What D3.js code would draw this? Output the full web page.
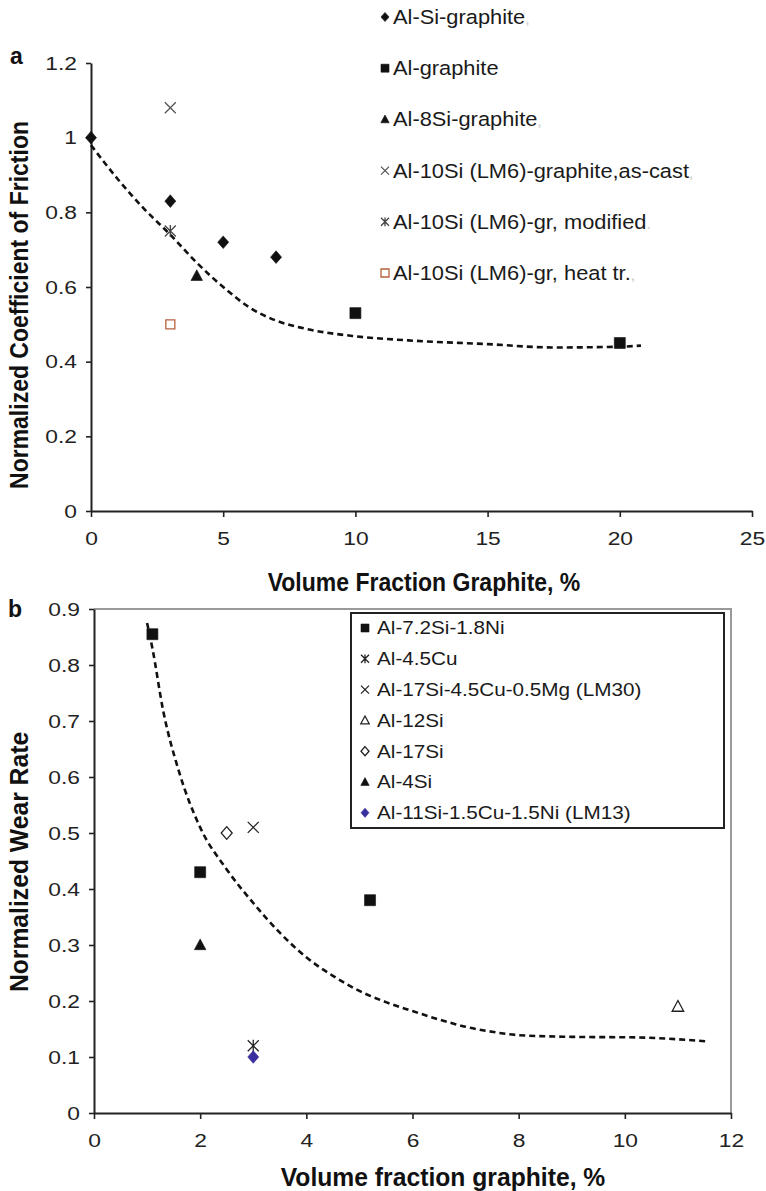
<!DOCTYPE html>
<html>
<head>
<meta charset="utf-8">
<script src="https://cdn.jsdelivr.net/npm/d3@7"></script>
<style>
  html, body { margin: 0; padding: 0; background: #fff; }
  svg { display: block; font-family: "Liberation Sans", Arial, Helvetica, sans-serif; }
</style>
</head>
<body>
<svg id="fig" width="766" height="1191"></svg>
<script>
// ---------- Panel a: friction coefficient ----------
const aSeriesNames = [
  "Al-Si-graphite", "Al-graphite", "Al-8Si-graphite",
  "Al-10Si (LM6)-graphite,as-cast", "Al-10Si (LM6)-gr, modified", "Al-10Si (LM6)-gr, heat tr."
];
const aSeriesTail = [",", "", ",", ",", ".", ","];
const aSeriesSymbols = ["diamond", "square", "triangle", "cross", "asterisk", "openSquare"];
const aSeriesColors = ["#111", "#111", "#111", "#555", "#444", "#b5603c"];
const aSiGraphiteX = [0, 3, 5, 7];
const aSiGraphiteY = [1.0, 0.83, 0.72, 0.68];
const aGraphiteX = [10, 20];
const aGraphiteY = [0.53, 0.45];
const a8SiX = [4];
const a8SiY = [0.63];
const aAsCastX = [3];
const aAsCastY = [1.08];
const aModifiedX = [3];
const aModifiedY = [0.75];
const aHeatX = [3];
const aHeatY = [0.50];
const aTrendX = [0, 1, 2, 3, 4, 5, 6, 7, 8, 10, 12, 15, 17.5, 20, 20.8];
const aTrendY = [0.98, 0.89, 0.81, 0.74, 0.665, 0.60, 0.545, 0.51, 0.49, 0.468, 0.457, 0.447, 0.438, 0.44, 0.443];
const aXTicks = [0, 5, 10, 15, 20, 25];
const aYTicks = [0, 0.2, 0.4, 0.6, 0.8, 1.0, 1.2];

// ---------- Panel b: wear rate ----------
const bSeriesNames = [
  "Al-7.2Si-1.8Ni", "Al-4.5Cu", "Al-17Si-4.5Cu-0.5Mg (LM30)", "Al-12Si",
  "Al-17Si", "Al-4Si", "Al-11Si-1.5Cu-1.5Ni (LM13)"
];
const bSeriesSymbols = ["square", "asterisk", "cross", "openTriangle", "openDiamond", "triangle", "diamond"];
const bSeriesColors = ["#111", "#222", "#222", "#222", "#222", "#111", "#3a2f9e"];
const bNiX = [1.1, 2, 5.2];
const bNiY = [0.855, 0.43, 0.38];
const bCuX = [3];
const bCuY = [0.12];
const bLM30X = [3];
const bLM30Y = [0.51];
const b12SiX = [11];
const b12SiY = [0.19];
const b17SiX = [2.5];
const b17SiY = [0.50];
const b4SiX = [2];
const b4SiY = [0.30];
const bLM13X = [3];
const bLM13Y = [0.10];
const bTrendX = [1.0, 1.1, 1.3, 1.6, 2.0, 2.5, 3.0, 3.5, 4.0, 4.5, 5.0, 5.5, 6.0, 6.5, 7.0, 7.5, 8, 9, 10.2, 11.55];
const bTrendY = [0.875, 0.83, 0.72, 0.61, 0.51, 0.435, 0.375, 0.322, 0.278, 0.245, 0.218, 0.198, 0.182, 0.167, 0.154, 0.145, 0.139, 0.136, 0.135, 0.128];
const bXTicks = [0, 2, 4, 6, 8, 10, 12];
const bYTicks = [0, 0.1, 0.2, 0.3, 0.4, 0.5, 0.6, 0.7, 0.8, 0.9];

const zip = (xs, ys) => xs.map((x, i) => [x, ys[i]]);
const aSeries = [
  zip(aSiGraphiteX, aSiGraphiteY), zip(aGraphiteX, aGraphiteY), zip(a8SiX, a8SiY),
  zip(aAsCastX, aAsCastY), zip(aModifiedX, aModifiedY), zip(aHeatX, aHeatY)
];
const bSeries = [
  zip(bNiX, bNiY), zip(bCuX, bCuY), zip(bLM30X, bLM30Y), zip(b12SiX, b12SiY),
  zip(b17SiX, b17SiY), zip(b4SiX, b4SiY), zip(bLM13X, bLM13Y)
];

const svg = d3.select("#fig");
const tickFmt = d => String(+d.toFixed(1));
const FONT = "'Liberation Sans', Arial, Helvetica, sans-serif";

// widen or narrow glyphs horizontally while keeping the anchor point
function stretch(sel, sx) {
  sel.each(function () {
    const t = d3.select(this);
    const x = +t.attr("x") || 0, y = +t.attr("y") || 0;
    t.attr("x", 0).attr("y", 0).attr("transform", `translate(${x},${y}) scale(${sx},1)`);
  });
}

// marker drawing: shape name -> path for a marker centred at 0,0
function markerPath(kind, s) {
  const h = s / 2;
  switch (kind) {
    case "diamond": case "openDiamond":
      return `M0,${-h * 1.15}L${h},0L0,${h * 1.15}L${-h},0Z`;
    case "square": case "openSquare":
      return `M${-h},${-h}H${h}V${h}H${-h}Z`;
    case "triangle": case "openTriangle":
      return `M0,${-h * 1.1}L${h * 1.05},${h * 0.85}H${-h * 1.05}Z`;
    case "cross":
      return `M${-h},${-h}L${h},${h}M${h},${-h}L${-h},${h}`;
    case "asterisk":
      return `M${-h},${-h}L${h},${h}M${h},${-h}L${-h},${h}M0,${-h * 1.1}V${h * 1.1}`;
  }
}
function drawMarker(g, kind, color, size) {
  const filled = ["diamond", "square", "triangle"].includes(kind);
  const open = ["openDiamond", "openSquare", "openTriangle"].includes(kind);
  return g.append("path")
    .attr("d", markerPath(kind, size))
    .attr("fill", filled ? color : (open ? "#fff" : "none"))
    .attr("stroke", color)
    .attr("stroke-width", filled ? 0.6 : 1.3);
}

function styleAxis(g) {
  g.selectAll(".domain").attr("stroke", "#222").attr("stroke-width", 2);
  g.selectAll(".tick line").attr("stroke", "#222").attr("stroke-width", 1.6);
  const txt = g.selectAll(".tick text").attr("fill", "#222")
    .style("font-family", FONT).style("font-size", "19px");
  stretch(txt, 1.2);
}

function title(x, y, rot, size, sx, str) {
  return svg.append("text")
    .attr("transform", `translate(${x},${y}) rotate(${rot}) scale(${sx},1)`)
    .attr("dy", "0.36em").attr("text-anchor", "middle")
    .attr("font-weight", "bold").attr("font-size", size).attr("fill", "#111")
    .text(str);
}

// ================= Panel a =================
const xA = d3.scaleLinear().domain([0, 25]).range([91, 752]);
const yA = d3.scaleLinear().domain([0, 1.2]).range([511, 63]);

const gA = svg.append("g");
gA.append("g").attr("transform", `translate(0,${yA(0)})`)
  .call(d3.axisBottom(xA).tickValues(aXTicks).tickFormat(tickFmt).tickSize(6).tickSizeOuter(0).tickPadding(15))
  .call(styleAxis);
gA.append("g").attr("transform", `translate(${xA(0)},0)`)
  .call(d3.axisLeft(yA).tickValues(aYTicks).tickFormat(tickFmt).tickSize(5).tickSizeOuter(0).tickPadding(9))
  .call(styleAxis);

gA.append("path")
  .datum(zip(aTrendX, aTrendY))
  .attr("fill", "none").attr("stroke", "#111").attr("stroke-width", 2.6)
  .attr("stroke-dasharray", "6,4")
  .attr("d", d3.line().x(d => xA(d[0])).y(d => yA(d[1])).curve(d3.curveMonotoneX));

aSeries.forEach((pts, i) => {
  pts.forEach(p => {
    const m = gA.append("g").attr("transform", `translate(${xA(p[0])},${yA(p[1])})`);
    drawMarker(m, aSeriesSymbols[i], aSeriesColors[i], aSeriesSymbols[i] === "openSquare" ? 9 : 11);
  });
});

// legend a (no frame)
const legA = svg.append("g");
aSeriesNames.forEach((name, i) => {
  const cy = 17 + i * 51.2;
  const m = legA.append("g").attr("transform", `translate(385,${cy})`);
  drawMarker(m, aSeriesSymbols[i], aSeriesColors[i], 8);
  const t = legA.append("text").attr("x", 393).attr("y", cy)
    .attr("dy", "0.36em").attr("font-size", 19.5).attr("fill", "#1a1a1a");
  t.append("tspan").text(name);
  t.append("tspan").attr("fill", "#c8c8c8").attr("font-size", 14).text(aSeriesTail[i]);
  stretch(t, 1.12);
});

svg.append("text").attr("x", 10).attr("y", 56).attr("dy", "0.36em")
  .attr("font-weight", "bold").attr("font-size", 23).attr("fill", "#111").text("a");
title(424, 582, 0, 25, 0.92, "Volume Fraction Graphite, %");
title(19, 305, -90, 25, 0.92, "Normalized Coefficient of Friction");

// ================= Panel b =================
const xB = d3.scaleLinear().domain([0, 12]).range([94, 731]);
const yB = d3.scaleLinear().domain([0, 0.9]).range([1113, 609]);

const gB = svg.append("g");
// light plot-area frame on the top and right
gB.append("path")
  .attr("d", `M${xB(0)},${yB(0.9)}H${xB(12)}V${yB(0)}`)
  .attr("fill", "none").attr("stroke", "#9a9a9a").attr("stroke-width", 2);
gB.append("g").attr("transform", `translate(0,${yB(0)})`)
  .call(d3.axisBottom(xB).tickValues(bXTicks).tickFormat(tickFmt).tickSize(6).tickSizeOuter(0).tickPadding(15))
  .call(styleAxis);
gB.append("g").attr("transform", `translate(${xB(0)},0)`)
  .call(d3.axisLeft(yB).tickValues(bYTicks).tickFormat(tickFmt).tickSize(5).tickSizeOuter(0).tickPadding(9))
  .call(styleAxis);

gB.append("path")
  .datum(zip(bTrendX, bTrendY))
  .attr("fill", "none").attr("stroke", "#111").attr("stroke-width", 2.6)
  .attr("stroke-dasharray", "6,4")
  .attr("d", d3.line().x(d => xB(d[0])).y(d => yB(d[1])).curve(d3.curveMonotoneX));

bSeries.forEach((pts, i) => {
  pts.forEach(p => {
    const m = gB.append("g").attr("transform", `translate(${xB(p[0])},${yB(p[1])})`);
    drawMarker(m, bSeriesSymbols[i], bSeriesColors[i], 11);
  });
});

// legend b (framed)
const legB = svg.append("g");
legB.append("rect").attr("x", 351).attr("y", 613).attr("width", 373).attr("height", 215)
  .attr("fill", "#fff").attr("stroke", "#222").attr("stroke-width", 2);
bSeriesNames.forEach((name, i) => {
  const cy = 628 + i * 30.8;
  const m = legB.append("g").attr("transform", `translate(365,${cy})`);
  drawMarker(m, bSeriesSymbols[i], bSeriesColors[i], 8);
  const t = legB.append("text").attr("x", 377).attr("y", cy).attr("dy", "0.36em")
    .attr("font-size", 18).attr("fill", "#1a1a1a").text(name);
  stretch(t, 1.15);
});

svg.append("text").attr("x", 8).attr("y", 609).attr("dy", "0.36em")
  .attr("font-weight", "bold").attr("font-size", 23).attr("fill", "#111").text("b");
title(443, 1177, 0, 26, 0.95, "Volume fraction graphite, %");
title(19, 862, -90, 26, 0.95, "Normalized Wear Rate");
</script>
</body>
</html>
